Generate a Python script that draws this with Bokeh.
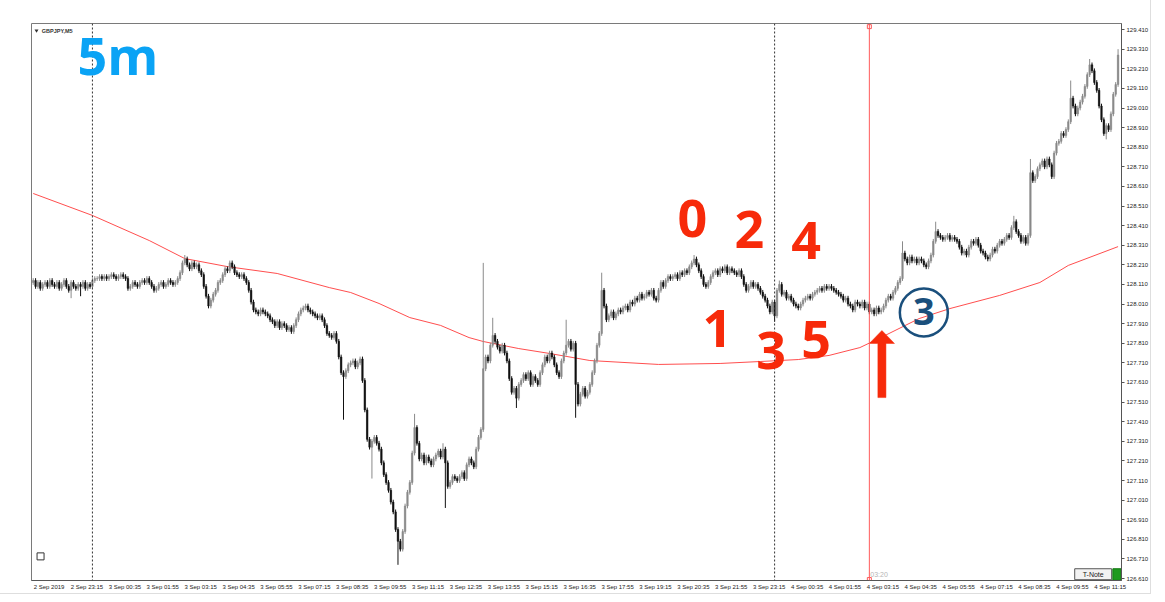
from bokeh.plotting import figure
from bokeh.models import (Range1d, FixedTicker, Label, Span, NumeralTickFormatter,
                          ColumnDataSource, Whisker)
from bokeh.embed import file_html
from bokeh.resources import INLINE

# ---------------- data ----------------
first_open = 128.12
closes = [
    128.13,128.10,128.12,128.09,128.11,128.12,128.10,128.13,128.11,128.10,
    128.12,128.09,128.11,128.13,128.10,128.08,128.12,128.10,128.09,128.11,
    128.10,128.12,128.09,128.11,128.10,128.13,128.14,128.14,128.15,128.14,
    128.15,128.14,128.15,128.16,128.15,128.14,128.15,128.16,128.15,128.14,
    128.09,128.10,128.12,128.11,128.10,128.12,128.13,128.12,128.14,128.12,
    128.10,128.08,128.09,128.11,128.12,128.10,128.11,128.13,128.12,128.11,
    128.12,128.14,128.17,128.22,128.24,128.21,128.19,128.22,128.20,128.21,
    128.18,128.16,128.10,128.05,128.00,128.03,128.06,128.08,128.12,128.13,
    128.16,128.19,128.18,128.22,128.20,128.17,128.16,128.15,128.16,128.14,
    128.12,128.08,128.02,127.98,127.97,127.96,127.98,127.97,127.96,127.95,
    127.93,127.92,127.90,127.92,127.89,127.91,127.90,127.88,127.89,127.87,
    127.90,127.93,127.96,127.98,127.99,128.00,127.98,127.97,127.96,127.95,
    127.94,127.95,127.93,127.90,127.86,127.85,127.84,127.86,127.82,127.74,
    127.66,127.64,127.67,127.70,127.71,127.72,127.69,127.71,127.73,127.62,
    127.47,127.32,127.28,127.31,127.33,127.30,127.27,127.20,127.14,127.10,
    127.06,127.00,126.95,126.86,126.80,126.76,126.85,126.98,127.05,127.10,
    127.25,127.38,127.30,127.22,127.24,127.20,127.23,127.21,127.19,127.22,
    127.24,127.26,127.23,127.27,127.20,127.08,127.10,127.13,127.12,127.11,
    127.13,127.15,127.12,127.19,127.22,127.20,127.18,127.27,127.33,127.37,
    127.68,127.74,127.72,127.80,127.85,127.82,127.79,127.77,127.80,127.76,
    127.72,127.63,127.56,127.58,127.53,127.60,127.62,127.65,127.63,127.66,
    127.60,127.64,127.62,127.60,127.66,127.70,127.74,127.72,127.76,127.74,
    127.70,127.66,127.64,127.72,127.76,127.80,127.82,127.78,127.81,127.60,
    127.50,127.55,127.58,127.54,127.56,127.60,127.66,127.72,127.80,127.86,
    128.08,128.00,127.93,127.95,127.97,127.94,127.96,127.98,127.97,127.99,
    128.00,127.98,128.02,128.01,128.04,128.03,128.06,128.04,128.05,128.07,
    128.06,128.08,128.04,128.03,128.08,128.12,128.10,128.13,128.15,128.14,
    128.15,128.16,128.14,128.17,128.16,128.18,128.17,128.20,128.22,128.24,
    128.21,128.18,128.15,128.11,128.10,128.12,128.15,128.17,128.18,128.16,
    128.19,128.18,128.20,128.17,128.19,128.18,128.17,128.16,128.18,128.15,
    128.11,128.08,128.10,128.12,128.10,128.11,128.09,128.07,128.05,128.03,
    128.00,127.97,128.02,127.95,128.08,128.11,128.06,128.07,128.04,128.05,
    128.03,128.01,128.00,127.99,128.01,128.03,128.04,128.05,128.04,128.06,
    128.07,128.08,128.09,128.08,128.10,128.09,128.10,128.09,128.08,128.07,
    128.06,128.05,128.03,128.04,128.01,128.00,127.98,128.02,128.01,128.00,
    128.02,127.99,128.01,127.97,127.98,127.96,127.99,127.97,127.98,128.00,
    128.03,128.05,128.04,128.07,128.09,128.12,128.14,128.27,128.24,128.22,
    128.25,128.23,128.24,128.22,128.24,128.23,128.21,128.20,128.23,128.26,
    128.33,128.38,128.36,128.35,128.34,128.35,128.36,128.34,128.35,128.34,
    128.33,128.30,128.27,128.28,128.26,128.30,128.33,128.32,128.34,128.31,
    128.28,128.27,128.25,128.24,128.26,128.29,128.28,128.31,128.33,128.32,
    128.34,128.36,128.35,128.40,128.43,128.38,128.36,128.33,128.35,128.32,
    128.36,128.68,128.64,128.66,128.70,128.72,128.74,128.71,128.75,128.72,
    128.66,128.78,128.83,128.84,128.88,128.87,128.90,128.94,129.06,129.02,
    128.98,129.01,129.04,129.07,129.12,129.18,129.23,129.20,129.14,129.10,
    129.02,128.95,128.88,128.92,128.90,128.98,129.08,129.13,129.28,
]
wick_pad = 0.012
extra_high_bar = [64, 83, 161, 173, 190, 194, 225, 240, 279, 315, 367, 381, 414, 421, 438, 446, 458]
extra_high_val = [128.26, 128.23, 127.45, 127.30, 128.22, 127.94, 127.93, 128.17, 128.26, 128.13,
                  128.33, 128.43, 128.46, 128.75, 129.15, 129.26, 129.31]
extra_low_bar = [16, 20, 131, 143, 154, 174, 204, 229, 313, 453]
extra_low_val = [128.04, 128.05, 127.42, 127.12, 126.68, 126.97, 127.48, 127.43, 127.92, 128.85]

# moving average read at sample bars
ma_bar = [0, 25, 49, 64, 82, 103, 125, 134, 146, 159, 172, 184, 190, 205, 218, 235, 264, 290,
          307, 323, 336, 349, 357, 374, 387, 408, 425, 437, 458]
ma_val = [128.574, 128.462, 128.334, 128.242, 128.201, 128.166, 128.094, 128.069, 128.013, 127.941,
          127.901, 127.839, 127.819, 127.783, 127.758, 127.722, 127.702, 127.707, 127.717, 127.727,
          127.748, 127.788, 127.834, 127.936, 127.987, 128.054, 128.120, 128.207, 128.303]

time_tick_bars = [0, 16, 32, 48, 64, 80, 96, 112, 128, 144, 160, 176, 192, 208, 224, 240, 256,
                  272, 288, 304, 320, 336, 352, 368, 384, 400, 416, 432, 448]
time_tick_labels = ["2 Sep 2019", "2 Sep 23:15", "3 Sep 00:35", "3 Sep 01:55", "3 Sep 03:15",
                    "3 Sep 04:35", "3 Sep 05:55", "3 Sep 07:15", "3 Sep 08:35", "3 Sep 09:55",
                    "3 Sep 11:15", "3 Sep 12:35", "3 Sep 13:55", "3 Sep 15:15", "3 Sep 16:35",
                    "3 Sep 17:55", "3 Sep 19:15", "3 Sep 20:35", "3 Sep 21:55", "3 Sep 23:15",
                    "4 Sep 00:35", "4 Sep 01:55", "4 Sep 03:15", "4 Sep 04:35", "4 Sep 05:55",
                    "4 Sep 07:15", "4 Sep 08:35", "4 Sep 09:55", "4 Sep 11:15"]
price_ticks = [126.61, 126.71, 126.81, 126.91, 127.01, 127.11, 127.21, 127.31, 127.41, 127.51,
               127.61, 127.71, 127.81, 127.91, 128.01, 128.11, 128.21, 128.31, 128.41, 128.51,
               128.61, 128.71, 128.81, 128.91, 129.01, 129.11, 129.21, 129.31, 129.41]

day_sep_bars = [25, 313]
cursor_bar = 353
cursor_label = "03:20"

# annotations (wave counts)
wave_text = ["0", "2", "4", "1", "3", "5"]
wave_bar = [278.3, 302.3, 326.3, 288.8, 311.5, 330.5]
wave_price = [128.445, 128.389, 128.333, 127.884, 127.772, 127.828]

# ---------------- derived OHLC ----------------
n = len(closes)
bars = list(range(n))
opens = [first_open] + closes[:-1]
highs = [max(o, c) + wick_pad for o, c in zip(opens, closes)]
lows = [min(o, c) - wick_pad for o, c in zip(opens, closes)]
for b, v in zip(extra_high_bar, extra_high_val):
    highs[b] = max(highs[b], v)
for b, v in zip(extra_low_bar, extra_low_val):
    lows[b] = min(lows[b], v)
UP, DOWN = "#8a8a8a", "#111111"
colors = [UP if c >= o else DOWN for o, c in zip(opens, closes)]
src = ColumnDataSource(dict(x=bars, o=opens, c=closes, h=highs, l=lows,
                            top=[max(o, c) for o, c in zip(opens, closes)],
                            bot=[min(o, c) for o, c in zip(opens, closes)],
                            col=colors))

# ---------------- figure ----------------
Y0, Y1 = 126.600, 129.441
p = figure(width=1151, height=594, output_backend="svg", toolbar_location=None,
           x_range=Range1d(-0.72, 459.45), y_range=Range1d(Y0, Y1),
           y_axis_location="right", min_border_left=31, min_border_top=23,
           min_border_right=28, min_border_bottom=14)
p.background_fill_color = "white"
p.border_fill_color = "white"
p.outline_line_color = "#7a7a7a"
p.grid.visible = False
p.styles = {"border-right": "1px solid #dedede", "border-bottom": "1px solid #dedede"}

# x axis: labels start just right of each time tick (MT4 style)
label_shift = 6.7
label_pos = [b + label_shift for b in time_tick_bars]
xa = p.xaxis[0]
xa.ticker = FixedTicker(ticks=label_pos)
xa.major_label_overrides = {pos: t for pos, t in zip(label_pos, time_tick_labels)}
xa.major_label_text_font = "Liberation Sans"
xa.major_label_text_font_size = "6px"
xa.major_label_text_color = "#222222"
xa.major_label_standoff = 3
xa.major_tick_out = 0
xa.major_tick_in = 0
xa.minor_tick_out = 0
xa.minor_tick_in = 0
xa.major_tick_line_color = None
xa.minor_tick_line_color = None
xa.axis_line_color = "#555555"

# the time tick marks themselves, hanging below the frame
tick_len = 0.0153
p.add_layout(Whisker(source=ColumnDataSource(dict(b=time_tick_bars,
                                                  lo=[Y0 - tick_len] * len(time_tick_bars),
                                                  hi=[Y0] * len(time_tick_bars))),
                     base="b", lower="lo", upper="hi", dimension="height",
                     lower_head=None, upper_head=None, line_color="#555555", line_width=1))

ya = p.yaxis[0]
ya.ticker = FixedTicker(ticks=price_ticks)
ya.formatter = NumeralTickFormatter(format="0.000")
ya.major_label_text_font = "Liberation Sans"
ya.major_label_text_font_size = "6px"
ya.major_label_text_color = "#222222"
ya.major_label_standoff = 2
ya.major_tick_out = 3
ya.major_tick_in = 0
ya.minor_tick_line_color = None
ya.axis_line_color = "#555555"
ya.major_tick_line_color = "#555555"

# separators and cursor line
for b in day_sep_bars:
    p.add_layout(Span(location=b, dimension="height", line_color="#333333",
                      line_dash="2 2", line_width=1))
p.add_layout(Span(location=cursor_bar, dimension="height", line_color="#ff5a5a", line_width=1))
p.scatter([cursor_bar, cursor_bar], [129.425, 126.605], marker="square", size=4,
          fill_color="white", line_color="#ff5a5a")
p.add_layout(Label(x=cursor_bar + 0.4, y=126.612, text=cursor_label, text_font="Liberation Sans",
                   text_font_size="7px", text_color="#b5b5b5", text_baseline="bottom"))

# moving average
p.line(ma_bar, ma_val, line_color="#ff3b3b", line_width=1, line_alpha=0.9)

# candles
p.segment(x0="x", y0="l", x1="x", y1="h", source=src, line_color="col", line_width=1)
p.vbar(x="x", width=0.62, top="top", bottom="bot", source=src, fill_color="col",
       line_color="col", line_width=0.6)

# header
p.scatter([1.4], [129.405], marker="inverted_triangle", size=4, fill_color="#333333", line_color=None)
p.add_layout(Label(x=3.6, y=129.405, text="GBPJPY,M5", text_font="Liberation Sans",
                   text_font_size="5.5px", text_font_style="bold", text_color="#333333",
                   text_baseline="middle"))
p.add_layout(Label(x=18.7, y=129.285, text="5m", text_font="Open Sans", text_font_size="52px",
                   text_font_style="bold", text_color="#0aa3f5", text_baseline="middle"))

# wave counts
for t, b, v in zip(wave_text, wave_bar, wave_price):
    p.add_layout(Label(x=b, y=v, text=t, text_font="Open Sans", text_font_size="52px",
                       text_font_style="bold", text_color="#f72a0a", text_align="center",
                       text_baseline="middle"))

# circled 3
circ_bar, circ_price = 376.0, 127.967
p.scatter([circ_bar], [circ_price], marker="circle", size=48, fill_color=None,
          line_color="#1a4f7c", line_width=2.5)
p.add_layout(Label(x=circ_bar, y=circ_price + 0.003, text="3", text_font="Open Sans",
                   text_font_size="38px", text_font_style="bold", text_color="#1a4f7c",
                   text_align="center", text_baseline="middle"))

# red arrow
arr_bar, arr_tip, arr_base, arr_head_base = 358.3, 127.875, 127.533, 127.809
arr_head_half, arr_shaft_half = 5.3, 1.7
p.patch([arr_bar - arr_shaft_half, arr_bar - arr_shaft_half, arr_bar - arr_head_half, arr_bar,
         arr_bar + arr_head_half, arr_bar + arr_shaft_half, arr_bar + arr_shaft_half],
        [arr_base, arr_head_base, arr_head_base, arr_tip, arr_head_base, arr_head_base, arr_base],
        fill_color="#f72a0a", line_color="#f72a0a", line_width=0.5)

# small square bottom-left
p.scatter([3.1], [126.723], marker="square", size=7, fill_color=None, line_color="#333333")

# T-Note button
p.quad(left=[439.7], right=[455.3], bottom=[126.604], top=[126.660], fill_color="#f2f2f2",
       line_color="#555555", line_width=1)
p.add_layout(Label(x=447.5, y=126.632, text="T-Note", text_font="Liberation Sans",
                   text_font_size="7px", text_color="#222222", text_align="center",
                   text_baseline="middle"))
p.quad(left=[455.8], right=[459.2], bottom=[126.601], top=[126.660], fill_color="#1f9a1f",
       line_color="#117711", line_width=1)

open("out.html", "w").write(file_html(p, INLINE))
